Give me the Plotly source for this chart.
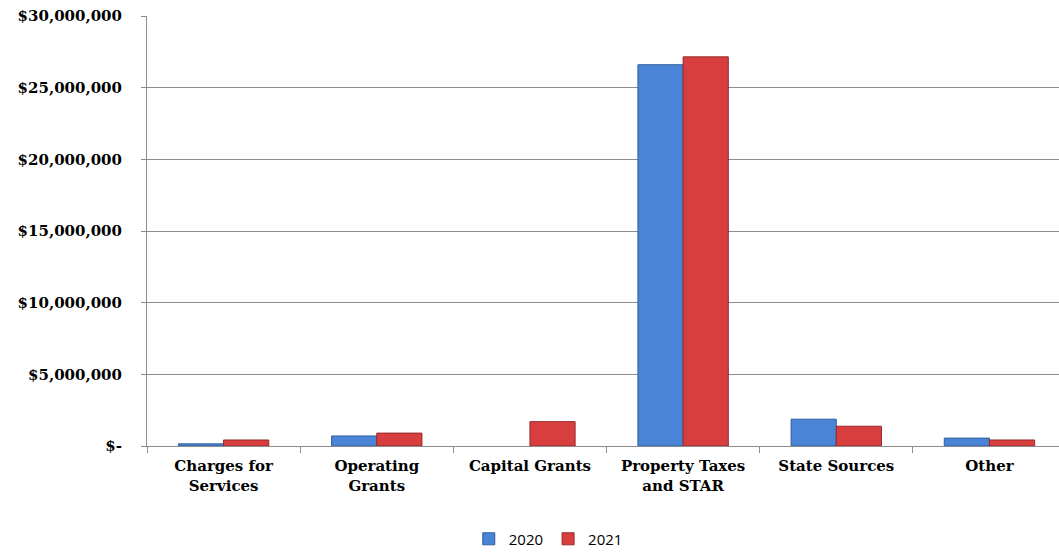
import plotly.graph_objects as go

categories = ["Charges for<br>Services", "Operating<br>Grants", "Capital Grants",
              "Property Taxes<br>and STAR", "State Sources", "Other"]
values_2020 = [150000, 700000, 0, 26600000, 1870000, 550000]
values_2021 = [420000, 900000, 1700000, 27150000, 1380000, 420000]
tick_vals = [0, 5000000, 10000000, 15000000, 20000000, 25000000, 30000000]
tick_text = ["$-", "$5,000,000", "$10,000,000", "$15,000,000", "$20,000,000",
             "$25,000,000", "$30,000,000"]

fig = go.Figure()
fig.add_bar(name="2020", x=categories, y=values_2020,
            marker=dict(color="#4A84D6",
                        line=dict(color="#2F5F9E", width=[0 if v == 0 else 1 for v in values_2020])))
fig.add_bar(name="2021", x=categories, y=values_2021,
            marker=dict(color="#D83E3E",
                        line=dict(color="#952A2A", width=[0 if v == 0 else 1 for v in values_2021])))

font_family = "DejaVu Serif"
fig.update_layout(
    width=1059, height=552,
    margin=dict(l=147, r=0, t=16, b=106, autoexpand=False),
    plot_bgcolor="white", paper_bgcolor="white",
    barmode="group", bargap=0.41, bargroupgap=0,
    font=dict(family=font_family, size=14, color="black"),
    legend=dict(orientation="h", x=0.44, xanchor="center", y=-0.178, yanchor="top",
                font=dict(family="Open Sans", size=15, color="black"),
                itemwidth=30, traceorder="normal"),
    showlegend=True,
)
fig.update_yaxes(range=[0, 30000000], tickvals=tick_vals, ticktext=tick_text,
                 automargin=False,
                 showgrid=True, gridcolor="#8c8c8c", gridwidth=1,
                 showline=True, linecolor="#8c8c8c", linewidth=1,
                 ticks="outside", ticklen=5, tickcolor="#8c8c8c",
                 ticklabelstandoff=16,
                 tickfont=dict(family=font_family, size=15, color="black", weight="bold"),
                 zeroline=False)
fig.update_xaxes(range=[-0.5, 5.454],
                 showline=True, linecolor="#8c8c8c", linewidth=1,
                 automargin=False,
                 ticks="outside", ticklen=6, tickcolor="#8c8c8c",
                 tickson="boundaries", ticklabelstandoff=6,
                 tickfont=dict(family=font_family, size=15, color="black", weight="bold"))
fig.write_html("out.html")
